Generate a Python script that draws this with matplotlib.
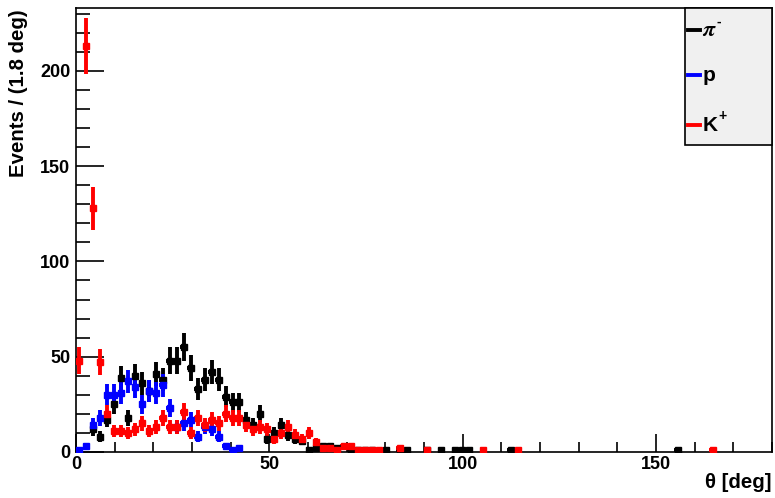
import numpy as np
import matplotlib
matplotlib.use("Agg")
import matplotlib.pyplot as plt
from matplotlib.patches import Rectangle

plt.rcParams['font.family'] = ['Liberation Sans', 'DejaVu Sans']
plt.rcParams['font.weight'] = 'bold'
plt.rcParams['mathtext.fontset'] = 'stix'

# histogram: 100 bins of 1.8 deg on [0, 180]
bin_width = 1.8
n_bins = 100

# counts per bin (bins not listed are empty)
pim_counts = {2: 12, 3: 8, 4: 17, 5: 25, 6: 39, 7: 18, 8: 40, 9: 36, 10: 32,
              11: 41, 12: 38, 13: 48, 14: 48, 15: 55, 16: 44, 17: 33, 18: 38,
              19: 42, 20: 38, 21: 29, 22: 26, 23: 26, 24: 17, 25: 14, 26: 20,
              27: 7, 28: 10, 29: 14, 30: 9, 31: 7, 32: 6, 33: 1, 34: 2, 35: 3,
              36: 3, 37: 2, 39: 1, 40: 1, 41: 1, 42: 1, 44: 1, 46: 1, 47: 1,
              50: 1, 52: 1, 54: 1, 55: 1, 56: 1, 62: 1, 86: 1}
p_counts = {0: 1, 1: 3, 2: 14, 3: 18, 4: 30, 5: 30, 6: 31, 7: 37, 8: 34, 9: 25,
            10: 32, 11: 31, 12: 35, 13: 23, 14: 13, 15: 15, 16: 17, 17: 8,
            18: 13, 19: 12, 20: 8, 21: 3, 22: 1, 23: 2}
kp_counts = {0: 48, 1: 213, 2: 128, 3: 47, 4: 20, 5: 11, 6: 11, 7: 10, 8: 12,
             9: 15, 10: 11, 11: 13, 12: 18, 13: 13, 14: 13, 15: 21, 16: 10,
             17: 18, 18: 14, 19: 17, 20: 15, 21: 20, 22: 18, 23: 18, 24: 14,
             25: 12, 26: 13, 27: 12, 28: 7, 29: 10, 30: 13, 31: 9, 32: 7,
             33: 10, 34: 5, 35: 2, 36: 2, 37: 1, 38: 3, 39: 3, 40: 1, 41: 1,
             42: 1, 43: 1, 46: 2, 50: 1, 58: 1, 63: 1, 91: 1}

series = [
    ("pim", pim_counts, "black"),
    ("p", p_counts, "#0000ff"),
    ("kp", kp_counts, "#ff0000"),
]

fig = plt.figure(figsize=(7.75, 4.98), dpi=100)
ax = fig.add_axes([0.098, 0.0924, 0.898, 0.8916])

for name, counts, col in series:
    idx = np.array(sorted(counts.keys()))
    vals = np.array([counts[i] for i in idx], dtype=float)
    x = (idx + 0.5) * bin_width
    ax.errorbar(x, vals, yerr=np.sqrt(vals), xerr=bin_width / 2,
                fmt='s', ms=3.8, color=col, ecolor=col, elinewidth=2.8,
                capsize=0, zorder=3)

ax.set_xlim(0, 180)
ax.set_ylim(0, 233)

ax.set_xticks([0, 50, 100, 150])
ax.set_xticks(np.arange(0, 181, 10), minor=True)
ax.set_yticks([0, 50, 100, 150, 200])
ax.set_yticks(np.arange(0, 231, 10), minor=True)
ax.tick_params(axis='both', which='both', direction='in', labelsize=13,
               width=1.2)
ax.tick_params(axis='x', which='major', length=13, pad=3)
ax.tick_params(axis='x', which='minor', length=7)
ax.tick_params(axis='y', which='major', length=20, pad=4)
ax.tick_params(axis='y', which='minor', length=10)
for lab in ax.get_xticklabels() + ax.get_yticklabels():
    lab.set_fontweight('bold')
for sp in ax.spines.values():
    sp.set_linewidth(1.2)

fig.text(0.024, 0.982, "Events / (1.8 deg)", rotation=90, ha='center',
         va='top', fontsize=14.7, fontweight='bold')
fig.text(0.996, 0.012, "θ [deg]", ha='right', va='bottom', fontsize=14.7,
         fontweight='bold')

# legend box, ROOT style
ax.add_patch(Rectangle((0.875, 0.691), 0.125, 0.309, transform=ax.transAxes,
                       facecolor='#f0f0f0', edgecolor='black', lw=1.2,
                       zorder=5, clip_on=False))
leg_y = [0.950, 0.849, 0.736]
for (name, counts, col), yy in zip(series, leg_y):
    ax.plot([0.879, 0.897], [yy, yy], color=col, lw=2.8,
            transform=ax.transAxes, zorder=6, clip_on=False)
ax.text(0.900, leg_y[0], r"$\pi$", transform=ax.transAxes, fontsize=16,
        va='center', ha='left', zorder=6)
ax.text(0.920, leg_y[0] + 0.018, "-", transform=ax.transAxes, fontsize=10,
        va='center', ha='left', zorder=6)
ax.text(0.900, leg_y[1], "p", transform=ax.transAxes, fontsize=15,
        va='center', ha='left', fontweight='bold', zorder=6)
ax.text(0.900, leg_y[2], "K", transform=ax.transAxes, fontsize=15,
        va='center', ha='left', fontweight='bold', zorder=6)
ax.text(0.923, leg_y[2] + 0.02, "+", transform=ax.transAxes, fontsize=10,
        va='center', ha='left', fontweight='bold', zorder=6)

fig.savefig("out.png", dpi=100)
